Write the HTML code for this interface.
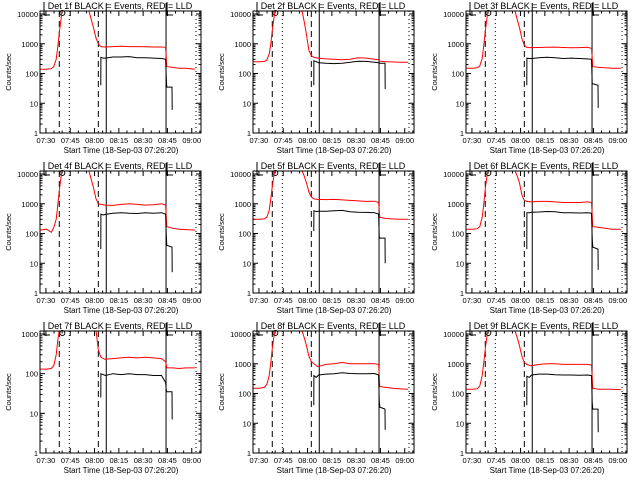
<!DOCTYPE html>
<html><head><meta charset="utf-8"><style>
html,body{margin:0;padding:0;background:#fff;}
svg{display:block;font-family:"Liberation Sans",sans-serif;}
</style></head><body>
<svg id="chart" width="640" height="480" viewBox="0 0 640 480" xmlns="http://www.w3.org/2000/svg"></svg>
<script>
// time in minutes from 07:26:20
const redTimes = [0,4,7,8.5,10,11,12,13,13.6,20,30.2,31.5,33,34.5,36,37.5,40,45,50,55,60,65,70,75,77.5,78.3,82,86,90,95.7];
const blackTimes = [37.5,37.6,39,40.5,45,50,55,60,65,70,75,77.5,77.9,78.3,81.5,81.6];
const red1 = [140,140,145,170,300,800,2500,7000,13000,null,13000,7000,3500,1600,1000,800,780,800,820,800,800,790,780,780,760,170,160,150,150,140];
const red2 = [250,250,255,280,450,1000,3000,8000,13000,null,13000,6000,2000,600,400,350,330,310,300,290,300,340,330,300,290,260,250,245,240,240];
const red3 = [150,150,155,180,320,900,2800,8000,13000,null,13000,7000,3500,1500,900,750,740,750,760,770,750,730,740,760,700,170,160,155,150,150];
const red4 = [130,140,110,160,300,900,3000,8000,13000,null,13000,7000,3500,1500,1000,950,900,880,950,1000,950,900,920,1000,900,170,150,140,135,130];
const red5 = [300,300,310,350,600,1500,4000,10000,13000,null,13000,9000,5000,2500,1700,1450,1400,1380,1400,1350,1300,1250,1200,1220,1100,350,320,310,300,300];
const red6 = [140,140,145,170,350,1000,3500,9000,13000,null,13000,9000,5000,2000,1300,1200,1150,1200,1200,1150,1100,1100,1100,1150,1100,170,160,150,140,140];
const red7 = [130,130,135,160,300,700,1300,1300,1300,null,1300,1300,1300,1300,400,260,230,240,250,260,250,260,250,240,200,140,140,135,140,140];
const red8 = [150,150,160,200,400,1100,3500,9000,13000,null,13000,8000,4000,1800,1200,1000,800,950,1000,1100,1000,1000,1000,1000,950,170,160,150,145,140];
const red9 = [140,140,145,180,400,1100,3500,9000,13000,null,13000,8000,4000,1800,1100,950,850,950,1000,1000,950,950,950,950,900,150,140,140,140,135];
const black1 = [40,350,330,330,360,360,370,340,340,330,320,300,80,35,35,6];
const black2 = [40,270,250,230,220,215,220,240,260,255,240,230,225,220,220,30];
const black3 = [40,330,320,320,340,350,340,320,330,320,310,300,45,45,40,7];
const black4 = [30,450,420,440,480,500,480,470,500,480,500,450,100,40,35,5];
const black5 = [120,580,550,560,560,580,600,540,520,510,500,450,80,70,70,10];
const black6 = [30,500,500,520,530,550,540,500,500,490,500,480,70,35,30,6];
const black7 = [25,100,95,90,100,95,100,95,95,90,90,60,40,35,35,7];
const black8 = [40,400,350,420,450,460,500,470,460,460,470,420,60,35,30,6];
const black9 = [40,380,350,420,450,450,430,420,420,410,420,400,50,30,30,5];
const detLabels = ["1f","2f","3f","4f","5f","6f","7f","8f","9f"];
const yMaxDecades = [4,4,4,4,4,4,3,4,4];
const xTickLabels = ["07:30","07:45","08:00","08:15","08:30","08:45","09:00"];
const xTickTimes = [3.667,18.667,33.667,48.667,63.667,78.667,93.667];
const dashedTimes = [11.9,36];
const dottedTimes = [18.1,96.3];
const solidTimes = [40.9,77.8];

const reds=[red1,red2,red3,red4,red5,red6,red7,red8,red9];
const blacks=[black1,black2,black3,black4,black5,black6,black7,black8,black9];
const NS="http://www.w3.org/2000/svg";
const svg=document.getElementById('chart');
function mk(tag,attrs,parent){const e=document.createElementNS(NS,tag);for(const k in attrs)e.setAttribute(k,attrs[k]);(parent||svg).appendChild(e);return e;}

for(let p=0;p<9;p++){
  const ox=(p%3)*213, oy=Math.floor(p/3)*160;
  const x0=ox+40,x1=ox+201,y0=oy+11,y1=oy+133;
  const dec=yMaxDecades[p];
  const ppd=(y1-(oy+14))/dec;
  const xs=t=>x0+t*1.62;
  const ys=v=>y1-Math.log10(v)*ppd;
  const g=mk('g',{});
  
  
  const cid='clip'+p;
  const cp=mk('clipPath',{id:cid},g);
  mk('rect',{x:x0,y:y0,width:x1-x0,height:y1-y0},cp);

  const title=mk('text',{x:ox+120,y:oy+9,'font-size':9,'text-anchor':'middle',fill:'#000'},g);
  title.textContent='Det '+detLabels[p]+' BLACK = Events, RED = LLD';
  
  

  const yt=mk('text',{x:0,y:0,'font-size':7.5,'text-anchor':'middle',transform:`translate(${ox+11},${oy+72}) rotate(-90)`},g);
  yt.textContent='Counts/sec';
  
  

  const xt=mk('text',{x:ox+121,y:oy+153,'font-size':8,'text-anchor':'middle'},g);
  xt.textContent='Start Time (18-Sep-03 07:26:20)';
  
  

  for(let d=0;d<=dec;d++){
    const y=ys(Math.pow(10,d));
    mk('line',{x1:x0,x2:x0+5,y1:y,y2:y,stroke:'#000'},g);
    mk('line',{x1:x1-5,x2:x1,y1:y,y2:y,stroke:'#000'},g);
    const lb=mk('text',{x:x0-2,y:y+3,'font-size':7.5,'text-anchor':'end'},g);
    lb.textContent=String(Math.pow(10,d));
    
    
    if(d<dec){for(let m=2;m<10;m++){const yy=ys(m*Math.pow(10,d));
      mk('line',{x1:x0,x2:x0+2.5,y1:yy,y2:yy,stroke:'#000'},g);
      mk('line',{x1:x1-2.5,x2:x1,y1:yy,y2:yy,stroke:'#000'},g);}}
  }
  xTickTimes.forEach((t,i)=>{
    const x=xs(t);
    mk('line',{x1:x,x2:x,y1:y1,y2:y1-5,stroke:'#000'},g);
    mk('line',{x1:x,x2:x,y1:y0,y2:y0+5,stroke:'#000'},g);
    for(let m=1;m<3;m++){const xm=xs(t+m*5);if(xm<x1){
      mk('line',{x1:xm,x2:xm,y1:y1,y2:y1-2.5,stroke:'#000'},g);
      mk('line',{x1:xm,x2:xm,y1:y0,y2:y0+2.5,stroke:'#000'},g);}}
    const lb=mk('text',{x:x,y:y1+10,'font-size':7.5,'text-anchor':'middle'},g);
    lb.textContent=xTickLabels[i];
    
    
  });
  dashedTimes.forEach(t=>{const l=mk('line',{x1:xs(t),x2:xs(t),y1:y0,y2:y1,stroke:'#000','stroke-dasharray':'6,4'},g);
    });
  dottedTimes.forEach(t=>{const l=mk('line',{x1:xs(t),x2:xs(t),y1:y0,y2:y1,stroke:'#000','stroke-dasharray':'1,3'},g);
    });
  solidTimes.forEach(t=>{const l=mk('line',{x1:xs(t),x2:xs(t),y1:oy+3,y2:y1,stroke:'#000'},g);
    });
  [x0+4, xs(solidTimes[1])+1].forEach(bx=>{
    mk('path',{d:`M${bx} ${oy+2} V${oy+15} H${bx+6}`,fill:'none',stroke:'#000'},g);
  });
  mk('circle',{cx:xs(13.8),cy:oy+13,r:2.5,fill:'none',stroke:'#000'},g);

  function path(ts,vs){let d='',pen=false;
    for(let i=0;i<ts.length;i++){const v=vs[i];
      if(v==null){pen=false;continue;}
      d+=(pen?'L':'M')+xs(ts[i]).toFixed(1)+' '+ys(v).toFixed(1);pen=true;}
    return d;}
  const rp=mk('path',{d:path(redTimes,reds[p]),fill:'none',stroke:'#ff0000','stroke-width':1,'clip-path':`url(#${cid})`},g);
  
  
  const bp=mk('path',{d:path(blackTimes,blacks[p]),fill:'none',stroke:'#000','stroke-width':1,'clip-path':`url(#${cid})`},g);
  
  

  const fr=mk('rect',{x:x0,y:y0,width:x1-x0,height:y1-y0,fill:'none',stroke:'#000'},g);
  
  
}
</script>
</body></html>
